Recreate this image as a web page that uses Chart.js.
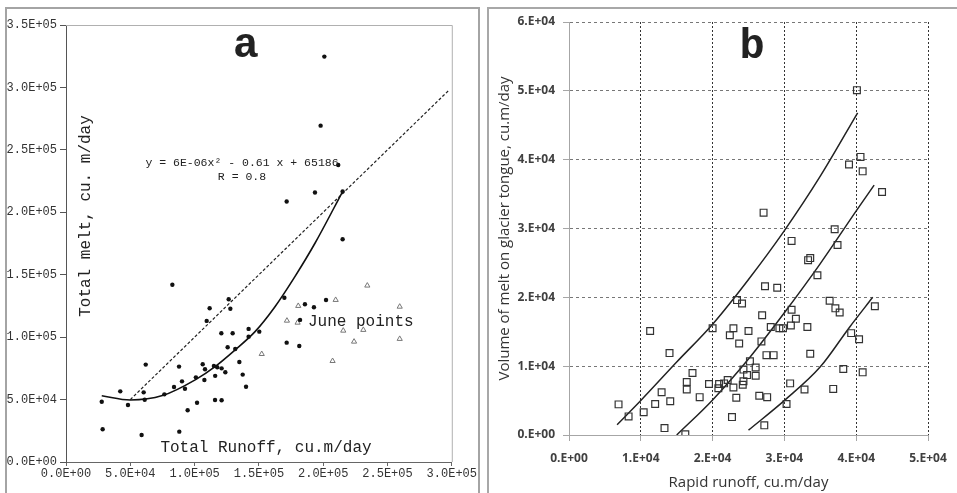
<!DOCTYPE html>
<html>
<head>
<meta charset="utf-8">
<script src="https://cdn.jsdelivr.net/npm/chart.js@4.4.0/dist/chart.umd.min.js"></script>
<style>
  body { margin: 0; background: #fff; overflow: hidden; }
  .frame { position: absolute; box-sizing: content-box; }
  #frameA { left: 5px; top: 7px; width: 471px; height: 500px; border: 2px solid #a4a4a4; border-bottom: none; }
  #frameB { left: 487px; top: 7px; width: 500px; height: 500px; border-left: 2px solid #a8a8a8; border-top: 2px solid #a8a8a8; }
  canvas { position: absolute; top: 0; }
  #chartA { left: 0; }
  #chartB { left: 478px; }
</style>
</head>
<body>
<div class="frame" id="frameA"></div>
<div class="frame" id="frameB"></div>
<canvas id="chartA" width="478" height="493"></canvas>
<canvas id="chartB" width="479" height="493"></canvas>
<script>
// ---- panel a: total melt vs total runoff ----
const runoffA = [27800, 28500, 42200, 48200, 58800, 60400, 61200, 62000, 76500, 82700,
  84000, 87900, 88100, 90200, 92500, 94600, 101000, 101900, 106300, 108100,
  107600, 109400, 111700, 116000, 115000, 117600, 121000, 115900, 121000, 123900,
  120800, 125700, 126500, 127800, 129600, 131600, 134800, 137400, 140000, 142000,
  142000, 150300, 169800, 171600, 171600, 181400, 182000, 185800, 192800, 193600,
  198000, 200900, 202200, 211700, 215100, 215100];
const meltA = [48300, 26200, 56600, 45700, 21600, 55800, 49900, 78000, 54200, 142000,
  60100, 76400, 24300, 64600, 58700, 41400, 67800, 47500, 78300, 74300,
  65700, 113000, 123200, 69000, 76900, 75900, 75000, 49700, 49400, 71900,
  103100, 91900, 130300, 122800, 103100, 90500, 80100, 70000, 60300, 106600,
  100400, 104400, 131600, 208600, 95600, 92900, 113800, 126300, 123900, 215800,
  269400, 324700, 129800, 237900, 216600, 178400];

// June points (open triangles)
const juneRunoff = [234300, 209700, 180600, 259500, 171800, 180100, 215600, 231200, 224000, 259500, 152200, 207300];
const juneMelt = [141300, 129800, 125000, 124400, 113200, 111600, 105200, 105800, 96400, 98600, 86500, 80900];

// polynomial trend, y = 6E-06x^2 - 0.61x + 65186
const fitRunoff = [27800, 50000, 75000, 100800, 115900, 131400, 147000, 162500, 178000, 193600, 215100];
const fitMelt = [53100, 49700, 53200, 66000, 76400, 89700, 104400, 124400, 148500, 175200, 216600];

// dotted 1:1 line
const equalRunoff = [50000, 298000];
const equalMelt = [50000, 298000];

const xTicksA = ['0.0E+00', '5.0E+04', '1.0E+05', '1.5E+05', '2.0E+05', '2.5E+05', '3.0E+05'];
const yTicksA = ['0.0E+00', '5.0E+04', '1.0E+05', '1.5E+05', '2.0E+05', '2.5E+05', '3.0E+05', '3.5E+05'];

// ---- panel b: melt on glacier tongue vs rapid runoff ----
const rapidRunoff = [6900, 8300, 10400, 11300, 12000, 12900, 13300, 14000, 14100, 16200,
  16400, 16400, 17200, 18200, 19500, 20000, 20800, 20900, 21600, 22100,
  22700, 22900, 23300, 22900, 22400, 23400, 24100, 23700, 24200, 24300,
  24300, 24800, 25000, 27100, 43600, 37000, 31000, 37400, 33300, 33600,
  34600, 27300, 29000, 36300, 37100, 37700, 42600, 31000, 31600, 26900,
  28100, 29300, 29800, 30900, 33200, 39300, 40400, 26800, 27500, 28500,
  33600, 25200, 26000, 26000, 38200, 40900, 30800, 32800, 36800, 26500,
  27600, 30300, 27200, 40100, 39000, 40600, 40900];
const tongueMelt = [4450, 2700, 3300, 15100, 4500, 6200, 1000, 11900, 4900, 100,
  7700, 6600, 9000, 5500, 7400, 15500, 6800, 7400, 7500, 8000,
  2600, 6900, 5400, 15500, 14500, 19600, 19100, 13300, 7300, 9500,
  7800, 8700, 15100, 32300, 35300, 29900, 28200, 27600, 25400, 25700,
  23200, 21600, 21400, 19500, 18400, 17800, 18700, 18200, 16900, 17400,
  15700, 15500, 15500, 15900, 15700, 14800, 13900, 13600, 11600, 11600,
  11800, 10700, 9800, 8600, 9600, 9100, 7500, 6600, 6700, 5700,
  5500, 4500, 1400, 50100, 39300, 40400, 38300];

// envelope curves
const upperX = [6700, 9900, 15000, 20000, 25000, 30000, 35000, 40200];
const upperY = [1500, 4900, 10600, 16100, 22600, 29700, 37600, 46800];
const middleX = [15000, 20000, 25200, 30100, 35000, 40100, 42500];
const middleY = [0, 5100, 11300, 17900, 24900, 32700, 36300];
const lowerX = [25000, 30100, 35000, 39100, 42300];
const lowerY = [700, 5100, 9900, 15700, 20000];

const xTicksB = ['0.E+00', '1.E+04', '2.E+04', '3.E+04', '4.E+04', '5.E+04'];
const yTicksB = ['0.E+00', '1.E+04', '2.E+04', '3.E+04', '4.E+04', '5.E+04', '6.E+04'];

const pts = (xs, ys) => xs.map((x, i) => ({ x: x, y: ys[i] }));

const mono = '"Courier New", "Liberation Mono", monospace';
const sans = '"Open Sans", "Noto Sans", sans-serif';

// grey box round the plot area (top and right sides)
const plotFrame = {
  id: 'plotFrame',
  beforeDatasetsDraw(chart) {
    const a = chart.chartArea, ctx = chart.ctx;
    ctx.save();
    ctx.strokeStyle = '#b0b0b0';
    ctx.lineWidth = 1;
    ctx.beginPath();
    ctx.moveTo(a.left, a.top + 0.5);
    ctx.lineTo(a.right + 0.5, a.top + 0.5);
    ctx.lineTo(a.right + 0.5, a.bottom);
    ctx.stroke();
    ctx.restore();
  }
};

// free text inside panel a
const notesA = {
  id: 'notesA',
  afterDraw(chart) {
    const ctx = chart.ctx;
    ctx.save();
    ctx.fillStyle = '#222';
    ctx.textAlign = 'center';
    ctx.textBaseline = 'alphabetic';
    ctx.font = 'bold 43px ' + mono;
    ctx.fillText('a', 246, 57);

    ctx.textBaseline = 'middle';
    ctx.font = '16px ' + mono;
    ctx.fillText('Total Runoff, cu.m/day', 266, 448);
    ctx.textAlign = 'left';
    ctx.fillText('June points', 308, 322);

    ctx.textAlign = 'center';
    ctx.font = '11.5px ' + mono;
    ctx.fillText('y = 6E-06x\u00B2 - 0.61 x + 65186', 242, 163);
    ctx.fillText('R = 0.8', 242, 177);

    ctx.translate(86, 216);
    ctx.rotate(-Math.PI / 2);
    ctx.font = '16px ' + mono;
    ctx.fillText('Total melt, cu. m/day', 0, 0);
    ctx.restore();
  }
};

const notesB = {
  id: 'notesB',
  afterDraw(chart) {
    const ctx = chart.ctx;
    ctx.save();
    ctx.fillStyle = '#222';
    ctx.textAlign = 'center';
    ctx.font = 'bold 42px ' + mono;
    ctx.fillText('b', 274, 58);
    ctx.restore();
  }
};

new Chart(document.getElementById('chartA'), {
  type: 'scatter',
  data: {
    datasets: [
      {
        data: pts(runoffA, meltA),
        pointStyle: 'circle',
        pointRadius: 2.2,
        backgroundColor: '#111',
        borderWidth: 0
      },
      {
        data: pts(juneRunoff, juneMelt),
        pointStyle: 'triangle',
        pointRadius: 3,
        borderColor: '#777',
        backgroundColor: 'rgba(255,255,255,0)',
        borderWidth: 1
      },
      {
        type: 'line',
        data: pts(fitRunoff, fitMelt),
        showLine: true,
        borderColor: '#111',
        borderWidth: 1.6,
        pointRadius: 0,
        cubicInterpolationMode: 'monotone'
      },
      {
        type: 'line',
        data: pts(equalRunoff, equalMelt),
        showLine: true,
        borderColor: '#222',
        borderWidth: 1.2,
        borderDash: [3, 2],
        pointRadius: 0
      }
    ]
  },
  options: {
    responsive: false,
    animation: false,
    layout: { padding: { top: 25, right: 26, left: 0, bottom: 0 } },
    plugins: { legend: { display: false }, tooltip: { enabled: false } },
    scales: {
      x: {
        type: 'linear', min: 0, max: 300000,
        ticks: {
          stepSize: 50000, autoSkip: false, maxRotation: 0, padding: 1,
          color: '#333', font: { family: mono, size: 12 },
          callback: (v, i) => xTicksA[i]
        },
        grid: { drawOnChartArea: false, tickLength: 4, color: '#666' },
        border: { color: '#666' },
        afterFit: s => { s.height = 31; }
      },
      y: {
        type: 'linear', min: 0, max: 350000,
        ticks: {
          stepSize: 50000, autoSkip: false, padding: 3,
          color: '#333', font: { family: mono, size: 12 },
          callback: (v, i) => yTicksA[i]
        },
        grid: { drawOnChartArea: false, tickLength: 6, color: '#555' },
        border: { color: '#555' },
        afterFit: s => { s.width = 66; }
      }
    }
  },
  plugins: [plotFrame, notesA]
});

const curve = (xs, ys) => ({
  type: 'line',
  data: pts(xs, ys),
  showLine: true,
  borderColor: '#222',
  borderWidth: 1.5,
  pointRadius: 0,
  cubicInterpolationMode: 'monotone'
});

new Chart(document.getElementById('chartB'), {
  type: 'scatter',
  data: {
    datasets: [
      {
        data: pts(rapidRunoff, tongueMelt),
        pointStyle: 'rect',
        pointRadius: 4.8,
        borderColor: '#333',
        backgroundColor: 'rgba(255,255,255,0)',
        borderWidth: 1.2
      },
      curve(upperX, upperY),
      curve(middleX, middleY),
      curve(lowerX, lowerY)
    ]
  },
  options: {
    responsive: false,
    animation: false,
    layout: { padding: { top: 22, right: 29, left: 0, bottom: 0 } },
    plugins: { legend: { display: false }, tooltip: { enabled: false } },
    scales: {
      x: {
        type: 'linear', min: 0, max: 50000,
        ticks: {
          stepSize: 10000, autoSkip: false, maxRotation: 0, padding: 10,
          color: '#404040', font: { family: sans, size: 12, weight: 'bold' },
          callback: (v, i) => xTicksB[i]
        },
        grid: { color: '#333', tickLength: 6, tickColor: '#a6a6a6', tickBorderDash: [] },
        border: { color: '#a6a6a6', dash: [2, 2] },
        title: {
          display: true, text: 'Rapid runoff, cu.m/day', color: '#333',
          font: { family: sans, size: 15 }, padding: { top: 0, bottom: 1 }
        },
        afterFit: s => { s.height = 58; }
      },
      y: {
        type: 'linear', min: 0, max: 60000,
        ticks: {
          stepSize: 10000, autoSkip: false, padding: 8,
          color: '#404040', font: { family: sans, size: 12, weight: 'bold' },
          callback: (v, i) => yTicksB[i]
        },
        grid: { color: '#777', tickLength: 6, tickColor: '#a6a6a6', tickBorderDash: [] },
        border: { color: '#a6a6a6', dash: [3, 3] },
        title: {
          display: true, text: 'Volume of melt on glacier tongue, cu.m/day', color: '#333',
          font: { family: sans, size: 15 }, padding: { top: 18, bottom: 0 }
        },
        afterFit: s => { s.width = 91; }
      }
    }
  },
  plugins: [notesB]
});
</script>
</body>
</html>
